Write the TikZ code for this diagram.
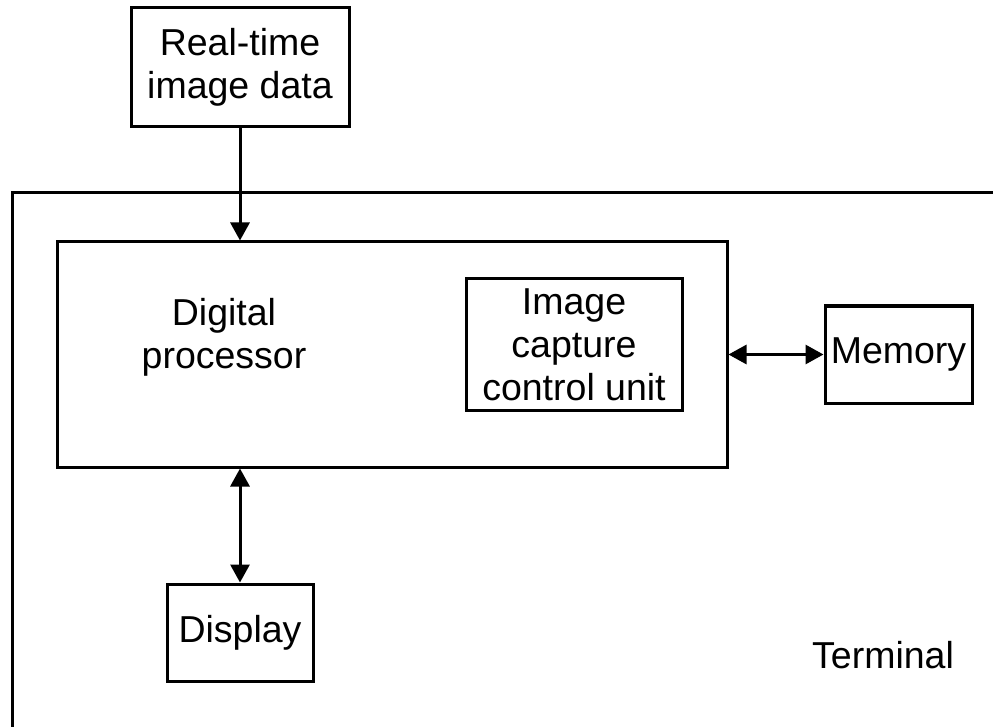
\documentclass[tikz,border=0pt]{standalone}
\usepackage{fontspec}
\setmainfont{Liberation Sans}
\usetikzlibrary{arrows.meta}
\begin{document}
\begin{tikzpicture}[x=1pt,y=-1pt,
  box/.style={draw,line width=3pt,inner sep=0pt,align=center,
    font=\fontsize{37.5}{43}\selectfont},
  lbl/.style={inner sep=0pt,align=center,font=\fontsize{37.5}{43}\selectfont},
  tip/.style={Triangle[length=18pt,width=19pt]},
  conn/.style={line width=3pt,-{Triangle[length=18pt,width=19pt]}},
  biconn/.style={line width=3pt,{Triangle[length=18pt,width=19pt]}-{Triangle[length=18pt,width=19pt]}}]
\useasboundingbox (0,0) rectangle (993,727);
% Terminal region
\coordinate (tr) at (993,193);
\coordinate (tl) at (12,193);
\coordinate (bl) at (12,727);
\draw[line width=3pt] (tr) -- (tl) -- (bl);
\node[lbl] (term) at (883,655) {Terminal};
% boxes
\node[box,minimum width=218pt,minimum height=119pt] (rt) at (240,67.5) {Real-time\\image data};
\node[box,minimum width=670pt,minimum height=225pt] (dp) at (392,354.5) {};
\node[lbl] (dptxt) at (224,337) {Digital\\processor};
\node[box,minimum width=216pt,minimum height=131pt] (icu) at (574,344.5) {Image\\capture\\control unit};
\node[box,minimum width=147pt,minimum height=97pt] (mem) at (898.5,354.5) {Memory};
\node[box,minimum width=146pt,minimum height=97pt] (disp) at (240,632.5) {Display};
% connectors
\draw[conn] (rt.south) -- (dp.north -| rt.south);
\draw[biconn] (dp.east |- mem.west) -- (mem.west);
\draw[biconn] (dp.south -| disp.north) -- (disp.north);
\end{tikzpicture}
\end{document}
